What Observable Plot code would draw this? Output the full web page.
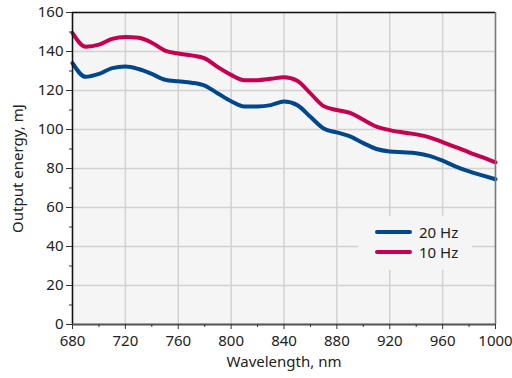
<!DOCTYPE html>
<html><head><meta charset="utf-8">
<script src="https://cdn.jsdelivr.net/npm/d3@7"></script>
<script src="https://cdn.jsdelivr.net/npm/@observablehq/plot@0.6"></script>
<style>
body{margin:0;background:#fff;font-family:"Noto Sans",sans-serif;}
#wrap{position:relative;width:512px;height:378px;}
#legend{position:absolute;left:358px;top:216px;width:114px;height:54px;background:#f5f5f5;font-size:15px;color:#222;}
#legend .row{position:absolute;left:17px;height:20px;display:flex;align-items:center;}
#legend .sw{width:37px;height:4px;border-radius:2px;margin-right:7px;}
</style>
</head><body>
<div id="wrap"></div>
<script>
const wavelength = [680,690,700,710,720,730,740,750,760,770,780,790,800,810,820,830,840,850,860,870,880,890,900,910,920,930,940,950,960,970,980,990,1000];
const hz20 = [134,127,128.5,131.5,132.3,131,128.5,125.5,124.7,124,122.5,118.5,114.5,111.8,111.8,112.5,114.3,112.5,106.5,100.5,98.5,96.5,93,90,88.7,88.3,87.8,86.5,84,81,78.5,76.5,74.5];
const hz10 = [149.5,142.5,143.5,146.5,147.5,147,144.5,140.5,139,138,136.5,132,128,125.3,125.3,126,126.8,125,118.5,112,110,108.5,105,101.5,99.7,98.5,97.5,96,93.5,91,88.3,85.8,83.2];
const seriesNames = ["20 Hz","10 Hz"];
const seriesColors = ["#00478d","#c6004e"];
const xMajor = [680,720,760,800,840,880,920,960,1000];
const xMinor = [700,740,780,820,860,900,940,980];
const yMajor = [0,20,40,60,80,100,120,140,160];
const yMinor = [10,30,50,70,90,110,130,150];

const data = [];
wavelength.forEach((w,i)=>{
  data.push({w, v: hz20[i], s: seriesNames[0]});
  data.push({w, v: hz10[i], s: seriesNames[1]});
});

const chart = Plot.plot({
  width: 512, height: 378,
  marginLeft: 72, marginRight: 17, marginTop: 12, marginBottom: 54,
  style: {fontFamily: '"Noto Sans", sans-serif', fontSize: "15px", color: "#222", background: "#fff"},
  x: {domain: [680,1000]},
  y: {domain: [0,160]},
  color: {domain: seriesNames, range: seriesColors},
  marks: [
    Plot.frame({fill: "#f5f5f5", stroke: "none"}),
    Plot.gridX(xMajor, {stroke: "#d2d2d2", strokeOpacity: 1, strokeWidth: 1.5}),
    Plot.gridY(yMajor, {stroke: "#d2d2d2", strokeOpacity: 1, strokeWidth: 1.5}),
    Plot.line(data, {x: "w", y: "v", z: "s", stroke: "s", strokeWidth: 4, curve: "monotone-x"}),
    Plot.ruleY([160], {stroke: "#111", strokeWidth: 1.5}),
    Plot.ruleX([1000], {stroke: "#777", strokeWidth: 1.5}),
    Plot.ruleX([680], {stroke: "#111", strokeWidth: 1.5}),
    Plot.ruleY([0], {stroke: "#555", strokeWidth: 2}),
    Plot.axisX(xMajor, {tickSize: 5, tickPadding: 6, fontSize: 15, stroke: "#333", tickFormat: d3.format("d"), label: "Wavelength, nm", labelAnchor: "center", labelArrow: "none", labelOffset: 42}),
    Plot.axisX(xMinor, {tickSize: 3, stroke: "#333", tickFormat: () => "", label: null}),
    Plot.axisY(yMajor, {tickSize: 6, tickPadding: 3, fontSize: 15, stroke: "#333", label: "Output energy, mJ", labelAnchor: "center", labelArrow: "none", labelOffset: 60}),
    Plot.axisY(yMinor, {tickSize: 3, stroke: "#333", tickFormat: () => "", label: null})
  ]
});
const wrap = document.getElementById("wrap");
wrap.appendChild(chart);
const legend = document.createElement("div");
legend.id = "legend";
seriesNames.forEach((n,i)=>{
  const row = document.createElement("div");
  row.className = "row";
  row.style.top = (6 + i*20) + "px";
  row.innerHTML = `<div class="sw" style="background:${seriesColors[i]}"></div><span>${n}</span>`;
  legend.appendChild(row);
});
wrap.appendChild(legend);
</script>
</body></html>
